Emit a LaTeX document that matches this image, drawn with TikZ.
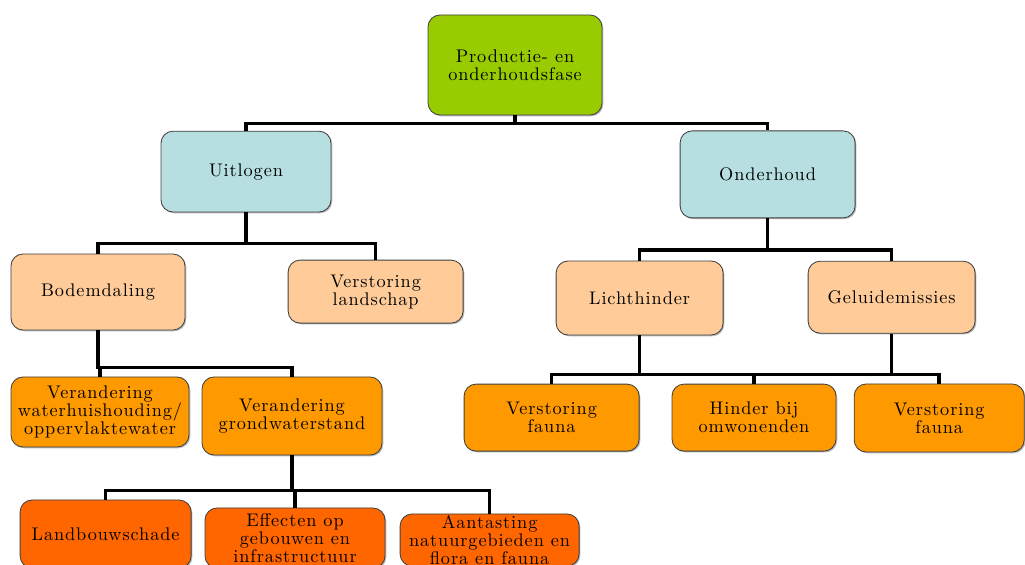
\documentclass[tikz,border=0pt]{standalone}
\usepackage{fontspec}
\usepackage{tikz}
\usetikzlibrary{positioning, shadows}

\newfontfamily\boxfont{lmroman10-regular}[Extension=.otf, LetterSpace=5]

\definecolor{groen}{HTML}{99CC00}
\definecolor{blauw}{HTML}{B7DEE0}
\definecolor{perzik}{HTML}{FFCC99}
\definecolor{oranje}{HTML}{FF9900}
\definecolor{donkeroranje}{HTML}{FF6600}

\begin{document}
\begin{tikzpicture}[
	box/.style = {draw = black!75, line width = 0.6pt, rounded corners = 0.3cm, align = center,
		font = \boxfont\fontsize{13}{12.8}\selectfont, inner sep = 2pt,
		drop shadow = {shadow xshift = 0.9pt, shadow yshift = -0.9pt, fill = black!55}},
	fase/.style = {box, fill = groen},
	activiteit/.style = {box, fill = blauw},
	effect/.style = {box, fill = perzik},
	gevolg/.style = {box, fill = oranje},
	schade/.style = {box, fill = donkeroranje, inner ysep = 0pt},
	conn/.style = {line width = 2.6pt, black}]
		\useasboundingbox (0,0) rectangle (25.625,-14.125);
		
		\node[fase, minimum width = 4.35cm, minimum height = 2.5cm] (fase) at (12.875,-1.625) {Productie- en\\onderhoudsfase};
		
		\node[activiteit, minimum width = 4.25cm, minimum height = 2.02cm] (uitlogen) at (6.15,-4.29) {Uitlogen};
		\node[activiteit, minimum width = 4.375cm, minimum height = 2.175cm] (onderhoud) at (19.19,-4.36) {Onderhoud};
		
		\node[effect, minimum width = 4.35cm, minimum height = 1.9cm] (bodem) at (2.45,-7.3) {Bodemdaling};
		\node[effect, minimum width = 4.375cm, minimum height = 1.575cm] (landschap) at (9.39,-7.29) {Verstoring\\landschap};
		\node[effect, minimum width = 4.175cm, minimum height = 1.85cm] (licht) at (15.99,-7.45) {Lichthinder};
		\node[effect, minimum width = 4.175cm, minimum height = 1.8cm] (geluid) at (22.29,-7.43) {Geluidemissies};
		
		\node[gevolg, minimum width = 4.45cm, minimum height = 1.75cm] (waterOpp) at (2.5,-10.3) {Verandering\\waterhuishouding/\\oppervlaktewater};
		\node[gevolg, minimum width = 4.5cm, minimum height = 1.95cm] (grondW) at (7.3,-10.4) {Verandering\\grondwaterstand};
		\node[gevolg, minimum width = 4.375cm, minimum height = 1.675cm] (faunaL) at (13.79,-10.44) {Verstoring\\fauna};
		\node[gevolg, minimum width = 4.1cm, minimum height = 1.675cm] (hinder) at (18.85,-10.44) {Hinder bij\\omwonenden};
		\node[gevolg, minimum width = 4.25cm, minimum height = 1.7cm] (faunaG) at (23.48,-10.45) {Verstoring\\fauna};
		
		\node[schade, minimum width = 4.275cm, minimum height = 1.7cm] (landbouw) at (2.64,-13.35) {Landbouwschade};
		\node[schade, minimum width = 4.5cm, minimum height = 1.5cm] (gebouwen) at (7.375,-13.45) {Effecten op\\gebouwen en\\infrastructuur};
		\node[schade, minimum width = 4.475cm, minimum height = 1.3cm] (natuur) at (12.24,-13.5) {Aantasting\\natuurgebieden en\\flora en fauna};
		
		\draw[conn] (fase.south) -- ++(0,-0.2) -| (uitlogen.north);
		\draw[conn] (fase.south) -- ++(0,-0.2) -| (onderhoud.north);
		
		\draw[conn] (uitlogen.south) -- ++(0,-0.775) -| (bodem.north);
		\draw[conn] (uitlogen.south) -- ++(0,-0.775) -| (landschap.north);
		\draw[conn] (onderhoud.south) -- ++(0,-0.8) -| (licht.north);
		\draw[conn] (onderhoud.south) -- ++(0,-0.8) -| (geluid.north);
		
		\draw[conn] (bodem.south) -- ++(0,-0.925) -| (waterOpp.north);
		\draw[conn] (bodem.south) -- ++(0,-0.925) -| (grondW.north);
		
		\draw[conn] (licht.south) -- ++(0,-0.975) -| (faunaL.north);
		\draw[conn] (licht.south) -- ++(0,-0.975) -| (hinder.north);
		\draw[conn] (licht.south) -- ++(0,-0.975) -| (faunaG.north);
		\draw[conn] (geluid.south) -- ++(0,-1.025);
		
		\draw[conn] (grondW.south) -- ++(0,-0.875) -| (landbouw.north);
		\draw[conn] (grondW.south) -- ++(0,-0.875) -| (gebouwen.north);
		\draw[conn] (grondW.south) -- ++(0,-0.875) -| (natuur.north);
\end{tikzpicture}
\end{document}
